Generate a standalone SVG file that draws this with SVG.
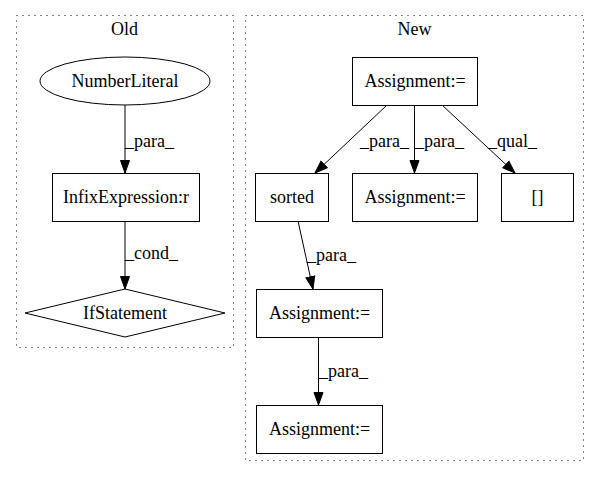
<svg xmlns="http://www.w3.org/2000/svg" width="600" height="480" viewBox="0 0 600 480" font-family="'Liberation Serif', 'Times New Roman', serif" font-size="18">
<defs>
<marker id="arr" markerUnits="userSpaceOnUse" markerWidth="14" markerHeight="11" refX="13" refY="5.5" orient="auto">
<path d="M0.5,1 L13,5.5 L0.5,10 z" fill="#000" stroke="#000" stroke-width="1"/>
</marker>
</defs>
<style>
text{font-family:'Liberation Serif','Times New Roman',serif;font-size:18px;fill:#000}
.c{text-anchor:middle}
.node{fill:none;stroke:#000;stroke-width:1}
.cluster{fill:none;stroke:#000;stroke-width:1;stroke-dasharray:1,5}
.edge{fill:none;stroke:#000;stroke-width:1;marker-end:url(#arr)}
</style>
<rect width="600" height="480" fill="#fff"/>
<g id="cluster_old">
<rect class="cluster" x="16.5" y="15.5" width="217" height="332"/>
<text class="c" x="124.5" y="35">Old</text>
</g>
<g id="cluster_new">
<rect class="cluster" x="245.5" y="15.5" width="338" height="445"/>
<text class="c" x="414.5" y="35">New</text>
</g>
<g id="NumberLiteral">
<ellipse class="node" cx="125" cy="81" rx="85" ry="24"/>
<text class="c" x="125" y="87">NumberLiteral</text>
</g>
<g id="InfixExpression">
<rect class="node" x="52.5" y="173.5" width="147" height="48"/>
<text class="c" x="126" y="203">InfixExpression:r</text>
</g>
<g id="IfStatement">
<polygon class="node" points="125,289 225,313 125,337 25,313"/>
<text class="c" x="125" y="319">IfStatement</text>
</g>
<g id="Assign1">
<rect class="node" x="352.5" y="57.5" width="125" height="48"/>
<text class="c" x="415" y="87">Assignment:=</text>
</g>
<g id="sorted">
<rect class="node" x="255.5" y="173.5" width="73" height="48"/>
<text class="c" x="292" y="203">sorted</text>
</g>
<g id="Assign_mid">
<rect class="node" x="352.5" y="173.5" width="125" height="48"/>
<text class="c" x="415" y="203">Assignment:=</text>
</g>
<g id="index">
<rect class="node" x="501.5" y="173.5" width="72" height="48"/>
<text class="c" x="537.5" y="203">[]</text>
</g>
<g id="Assign2">
<rect class="node" x="256.5" y="289.5" width="126" height="48"/>
<text class="c" x="319.5" y="319">Assignment:=</text>
</g>
<g id="Assign3">
<rect class="node" x="256.5" y="405.5" width="126" height="48"/>
<text class="c" x="319.5" y="435">Assignment:=</text>
</g>
<g id="edges">
<path class="edge" d="M125,105 L125,173"/>
<text x="125" y="147">_para_</text>
<path class="edge" d="M125,221 L125,289"/>
<text x="125" y="259">_cond_</text>
<path class="edge" d="M387,105 L315,173"/>
<text x="360" y="147">_para_</text>
<path class="edge" d="M414.5,105 L414.5,173"/>
<text x="415" y="147">_para_</text>
<path class="edge" d="M442,105 L515,173"/>
<text x="488" y="147">_qual_</text>
<path class="edge" d="M298,221 L313,289"/>
<text x="307" y="261">_para_</text>
<path class="edge" d="M318.5,337 L318.5,405"/>
<text x="319" y="377">_para_</text>
</g>
</svg>
